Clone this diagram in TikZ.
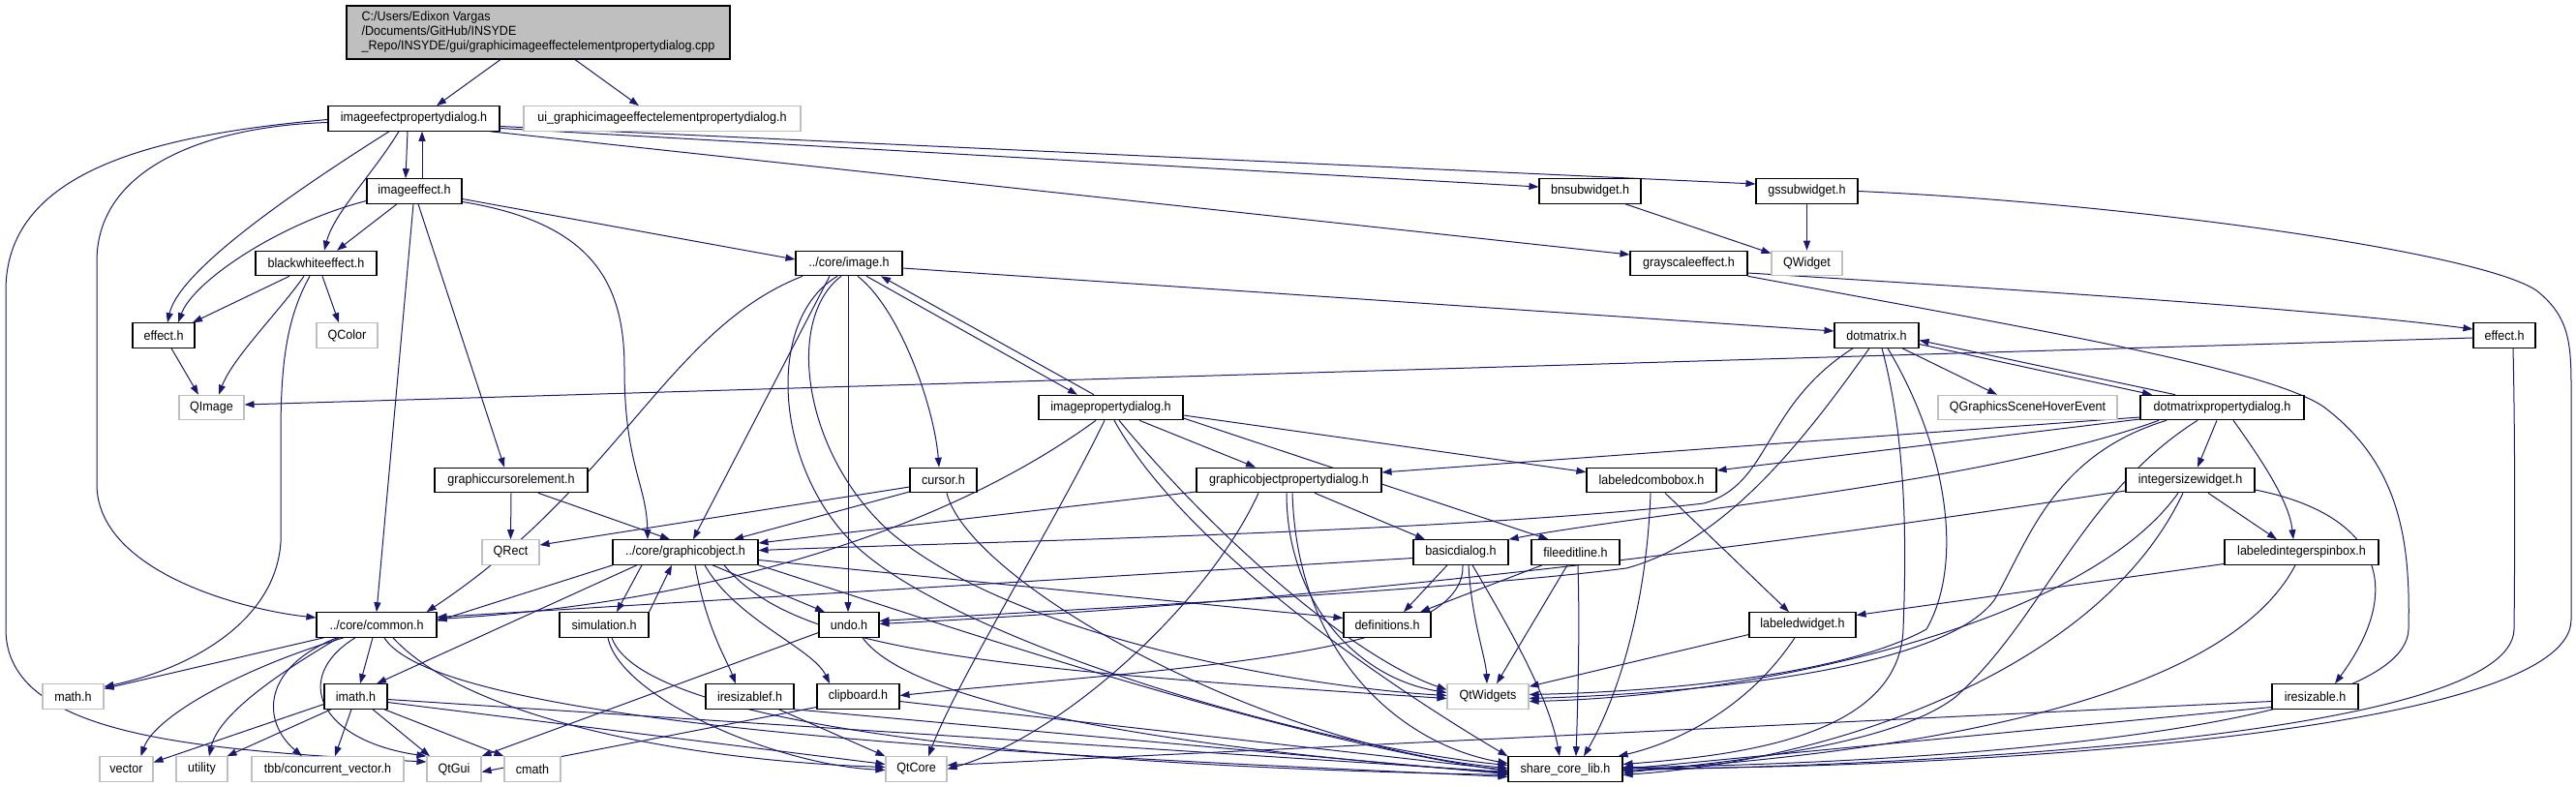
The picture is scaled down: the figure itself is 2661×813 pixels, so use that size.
\documentclass[tikz,border=0pt]{standalone}
\usepackage{fontspec}
\newfontfamily\dfont{Liberation Sans}[FakeStretch=0.93]
\usetikzlibrary{arrows.meta,backgrounds}
\definecolor{edgec}{HTML}{191970}
\definecolor{gry}{HTML}{BFBFBF}
\tikzset{
 box/.style={draw=black, line width=1.1pt, fill=white, inner sep=0pt, minimum height=25.5pt, font=\dfont\fontsize{13.5pt}{15pt}\selectfont},
 ext/.style={box, draw=gry},
 dep/.style={draw=edgec, line width=1pt, -{Triangle[length=10pt,width=7pt]}}
}
\begin{document}
\begin{tikzpicture}[x=1pt,y=-1pt]
\useasboundingbox (0,0) rectangle (2661,813);
% nodes
\node[box, fill=gry, minimum width=396pt, minimum height=55pt, align=left] (root) at (556,33.5) {C:/Users/Edixon Vargas\\/Documents/GitHub/INSYDE\\\_Repo/INSYDE/gui/graphicimageeffectelementpropertydialog.cpp};
\node[box, minimum width=177pt] (iepd) at (427.5,122.5) {imageefectpropertydialog.h};
\node[ext, minimum width=286pt] (ui) at (684,122.5) {ui\_graphicimageeffectelementpropertydialog.h};
\node[box, minimum width=98pt] (ie) at (428,197.5) {imageeffect.h};
\node[box, minimum width=105pt] (bnsw) at (1642.5,197.5) {bnsubwidget.h};
\node[box, minimum width=105pt] (gssw) at (1866.5,197.5) {gssubwidget.h};
\node[box, minimum width=125pt] (bwe) at (326.5,272) {blackwhiteeffect.h};
\node[box, minimum width=110pt] (img) at (877,272) {../core/image.h};
\node[box, minimum width=121pt] (gse) at (1744.5,272) {grayscaleeffect.h};
\node[ext, minimum width=73pt] (qwidget) at (1866.5,272) {QWidget};
\node[box, minimum width=64pt] (effL) at (169,346.5) {effect.h};
\node[ext, minimum width=63pt] (qcolor) at (358.5,346.5) {QColor};
\node[box, minimum width=87pt] (dotm) at (1938.5,346.5) {dotmatrix.h};
\node[box, minimum width=64pt] (effR) at (2587,346.5) {effect.h};
\node[ext, minimum width=67pt] (qimage) at (218.5,421) {QImage};
\node[box, minimum width=149pt] (ipd) at (1147.5,421) {imagepropertydialog.h};
\node[ext, minimum width=185pt] (qgshe) at (2094.5,421) {QGraphicsSceneHoverEvent};
\node[box, minimum width=169pt] (dmpd) at (2295.5,421) {dotmatrixpropertydialog.h};
\node[box, minimum width=158pt] (gce) at (528,496) {graphiccursorelement.h};
\node[box, minimum width=69pt] (cursor) at (974.5,496) {cursor.h};
\node[box, minimum width=191pt] (gopd) at (1331.5,496) {graphicobjectpropertydialog.h};
\node[box, minimum width=134pt] (lcb) at (1706,496) {labeledcombobox.h};
\node[box, minimum width=133pt] (isw) at (2262.5,496) {integersizewidget.h};
\node[ext, minimum width=59pt] (qrect) at (527.5,570.5) {QRect};
\node[box, minimum width=150pt] (gobj) at (708,570.5) {../core/graphicobject.h};
\node[box, minimum width=98pt] (basic) at (1509,570.5) {basicdialog.h};
\node[box, minimum width=91pt] (fel) at (1627.5,570.5) {fileeditline.h};
\node[box, minimum width=159pt] (lisb) at (2377.5,570.5) {labeledintegerspinbox.h};
\node[box, minimum width=124pt] (common) at (389,645.5) {../core/common.h};
\node[box, minimum width=92pt] (sim) at (624,645.5) {simulation.h};
\node[box, minimum width=62pt] (undo) at (877,645.5) {undo.h};
\node[box, minimum width=90pt] (defs) at (1433,645.5) {definitions.h};
\node[box, minimum width=110pt] (lw) at (1862,645.5) {labeledwidget.h};
\node[ext, minimum width=63pt] (mathh) at (75.5,719.5) {math.h};
\node[box, minimum width=65pt] (imath) at (367.5,719.5) {imath.h};
\node[box, minimum width=91pt] (iresf) at (774.5,719.5) {iresizablef.h};
\node[box, minimum width=85pt] (clip) at (886.5,719.5) {clipboard.h};
\node[ext, minimum width=84pt] (qtwidgets) at (1537,719.5) {QtWidgets};
\node[box, minimum width=89pt] (iresz) at (2391.5,719.5) {iresizable.h};
\node[ext, minimum width=55pt] (vector) at (130.5,794.5) {vector};
\node[ext, minimum width=53pt] (utility) at (208.5,794.5) {utility};
\node[ext, minimum width=157pt] (tbb) at (338.5,794.5) {tbb/concurrent\_vector.h};
\node[ext, minimum width=56pt] (qtgui) at (469,794.5) {QtGui};
\node[ext, minimum width=58pt] (cmath) at (550,794.5) {cmath};
\node[ext, minimum width=63pt] (qtcore) at (946.5,794.5) {QtCore};
\node[box, minimum width=118pt] (scl) at (1617,794.5) {share\_core\_lib.h};

\begin{pgfonlayer}{background}
% root
\draw[dep] ([xshift=-39pt]root.south) -- ([xshift=23.5pt]iepd.north);
\draw[dep] ([xshift=38pt]root.south) -- ([xshift=-24pt]ui.north);
% iepd
\draw[dep] ([xshift=-6.5pt]iepd.south) -- ([xshift=-9pt]ie.north);
\draw[dep] ([xshift=-25.5pt]iepd.south) .. controls (300,200) and (185,280) .. ([xshift=4pt]effL.north);
\draw[dep] ([xshift=-15.5pt]iepd.south) .. controls (385,180) and (345,220) .. ([xshift=8.5pt]bwe.north);
\draw[dep] ([yshift=-4pt]iepd.west) .. controls (220,130) and (100,170) .. (100,270) -- (100,500) .. controls (100,590) and (250,630) .. ([yshift=7.5pt]common.west);
\draw[dep] ([yshift=-1pt]iepd.west) .. controls (150,140) and (6,180) .. (6,300) -- (6,650) .. controls (6,760) and (200,775) .. ([yshift=7.5pt]qtgui.west);
\draw[dep] ([yshift=-10pt]iepd.east) -- ([yshift=4.5pt]bnsw.west);
\draw[dep] ([yshift=-8pt]iepd.east) -- ([yshift=7.5pt]gssw.west);
\draw[dep] ([xshift=-10pt]iepd.south east) -- ([yshift=9pt]gse.west);
% ie
\draw[dep] ([xshift=8pt]ie.north) -- ([xshift=8.5pt]iepd.south);
\draw[dep] ([yshift=-10pt]ie.west) .. controls (290,230) and (200,290) .. ([xshift=15pt]effL.north);
\draw[dep] ([xshift=-18pt]ie.south) -- ([xshift=21.5pt]bwe.north);
\draw[dep] ([xshift=-1pt]ie.south) -- (common.north);
\draw[dep] ([xshift=4pt]ie.south) -- ([xshift=-7pt]gce.north);
\draw[dep] ([yshift=-8pt]ie.east) -- ([yshift=4pt]img.west);
\draw[dep] ([yshift=-11pt]ie.east) .. controls (610,230) and (645,290) .. (645,380) .. controls (645,480) and (668,500) .. ([xshift=-39pt]gobj.north);
% bwe
\draw[dep] ([xshift=-27.5pt]bwe.south) -- ([xshift=30pt]effL.north);
\draw[dep] ([xshift=-12.5pt]bwe.south) .. controls (290,320) and (240,370) .. ([xshift=7.5pt]qimage.north);
\draw[dep] ([xshift=-6.5pt]bwe.south) .. controls (295,330) and (290,380) .. (290,450) -- (290,560) .. controls (285,640) and (200,690) .. ([yshift=10pt]mathh.east);
\draw[dep] ([xshift=6.5pt]bwe.south) -- ([xshift=-8.5pt]qcolor.north);
\draw[dep] ([xshift=8pt]effL.south) -- ([xshift=-13.5pt]qimage.north);
% widgets
\draw[dep] ([xshift=36.5pt]bnsw.south) -- ([yshift=-3pt]qwidget.north west);
\draw[dep] (gssw.south) -- (qwidget.north);
\draw[dep] (gssw.east) .. controls (2200,210) and (2560,260) .. (2620,300) .. controls (2658,330) and (2656,360) .. (2656,420) -- (2656,640) .. controls (2656,760) and (2000,795) .. ([yshift=1pt]scl.east);
\draw[dep] ([yshift=-10pt]gse.east) .. controls (2100,300) and (2400,320) .. ([yshift=6.5pt]effR.west);
\draw[dep] (gse.south east) .. controls (2100,340) and (2340,380) .. (2400,420) .. controls (2480,480) and (2490,560) .. (2488,650) .. controls (2485,760) and (1950,790) .. ([yshift=2pt]scl.east);
\draw[dep] ([yshift=-2.5pt]effR.west) -- ([yshift=3pt]qimage.east);
\draw[dep] ([xshift=9pt]effR.south) .. controls (2598,450) and (2598,560) .. (2597,650) .. controls (2595,760) and (2000,790) .. ([yshift=-1pt]scl.east);
% img
\draw[dep] ([xshift=-48pt]img.south) .. controls (690,340) and (640,500) .. ([xshift=-11pt]common.north east);
\draw[dep] ([xshift=-20pt]img.south) -- ([xshift=8pt]gobj.north);
\draw[dep] ([xshift=-12pt]img.south) .. controls (790,330) and (800,480) .. (880,560) .. controls (980,660) and (1350,770) .. ([yshift=4pt]scl.west);
\draw[dep] ([xshift=-8pt]img.south) .. controls (810,330) and (830,470) .. (920,550) .. controls (1050,660) and (1350,710) .. ([yshift=1pt]qtwidgets.west);
\draw[dep] ([xshift=-1pt]img.south) -- ([xshift=-1pt]undo.north);
\draw[dep] ([xshift=9pt]img.south) .. controls (930,320) and (965,420) .. ([xshift=-4.5pt]cursor.north);
\draw[dep] ([xshift=18pt]img.south) -- ([xshift=-34.5pt]ipd.north);
\draw[dep] ([yshift=-5pt]img.east) -- ([yshift=4.5pt]dotm.west);
% ipd
\draw[dep] ([xshift=-17.5pt]ipd.north) -- ([xshift=33pt]img.south);
\draw[dep] ([xshift=29.5pt]ipd.south) -- ([xshift=-34.5pt]gopd.north);
\draw[dep] ([yshift=-8pt]ipd.east) -- ([yshift=-5pt]lcb.north west);
\draw[dep] ([yshift=-11pt]ipd.east) -- ([xshift=-28pt]fel.north);
\draw[dep] ([xshift=-15.5pt]ipd.south) .. controls (960,560) and (700,625) .. ([yshift=6pt]common.east);
\draw[dep] ([xshift=-6.5pt]ipd.south) .. controls (1090,540) and (990,700) .. ([xshift=12.5pt]qtcore.north);
\draw[dep] ([xshift=3.5pt]ipd.south) .. controls (1220,560) and (1420,700) .. (scl.north west);
\draw[dep] ([xshift=8.5pt]ipd.south) .. controls (1260,560) and (1400,680) .. ([yshift=7pt]qtwidgets.west);
% dotm
\draw[dep] ([xshift=26.5pt]dotm.south) -- ([xshift=-31.5pt]qgshe.north);
\draw[dep] ([yshift=-9pt]dotm.east) -- ([xshift=-72.5pt]dmpd.north);
\draw[dep] ([xshift=-48.5pt]dmpd.north) -- ([yshift=-5pt]dotm.east);
\draw[dep] ([xshift=-24.5pt]dotm.south) .. controls (1820,420) and (1830,500) .. (1760,520) .. controls (1500,550) and (1000,560) .. ([yshift=2pt]gobj.east);
\draw[dep] ([xshift=-7.5pt]dotm.south) .. controls (1860,460) and (1780,560) .. (1680,587) .. controls (1500,610) and (1100,630) .. ([yshift=4pt]undo.east);
\draw[dep] ([xshift=5.5pt]dotm.south) .. controls (1968,450) and (1970,550) .. (1966,650) .. controls (1962,760) and (1800,780) .. ([yshift=5pt]scl.east);
\draw[dep] ([xshift=11.5pt]dotm.south) .. controls (2010,460) and (2030,580) .. (1990,650) .. controls (1900,700) and (1700,715) .. ([yshift=2pt]qtwidgets.east);
% dmpd
\draw[dep] ([yshift=-10pt]dmpd.west) -- ([yshift=8pt]gopd.east);
\draw[dep] ([yshift=-12pt]dmpd.west) -- ([yshift=10pt]lcb.east);
\draw[dep] ([xshift=-65.5pt]dmpd.south) .. controls (2050,500) and (1700,530) .. (basic.north east);
\draw[dep] ([xshift=-5.5pt]dmpd.south) -- ([xshift=7.5pt]isw.north);
\draw[dep] ([xshift=11.5pt]dmpd.south) .. controls (2340,480) and (2365,520) .. ([xshift=-8.5pt]lisb.north);
\draw[dep] ([xshift=-57.5pt]dmpd.south) .. controls (2120,470) and (2095,560) .. (2060,620) .. controls (2000,700) and (1700,718) .. ([yshift=-2pt]qtwidgets.east);
\draw[dep] ([xshift=-25.5pt]dmpd.south) .. controls (2150,510) and (2110,640) .. (2020,720) .. controls (1950,775) and (1750,790) .. ([yshift=-4pt]scl.east);
% gce, cursor
\draw[dep] (gce.south) -- (qrect.north);
\draw[dep] ([xshift=28pt]gce.south) -- ([xshift=-16pt]gobj.north);
\draw[dep] ([yshift=-7pt]cursor.west) -- ([yshift=7.5pt]qrect.east);
\draw[dep] ([yshift=-12pt]cursor.west) -- ([xshift=50pt]gobj.north);
\draw[dep] ([xshift=3.5pt]cursor.south) .. controls (1000,600) and (1300,770) .. ([yshift=1pt]scl.west);
% gopd
\draw[dep] ([yshift=-12pt]gopd.west) -- ([yshift=9.5pt]gobj.east);
\draw[dep] ([xshift=26.5pt]gopd.south) -- ([xshift=-37pt]basic.north);
\draw[dep] ([xshift=-2.5pt]gopd.south) .. controls (1329,620) and (1400,700) .. ([yshift=4pt]qtwidgets.west);
\draw[dep] ([xshift=3.5pt]gopd.south) .. controls (1340,680) and (1450,770) .. ([yshift=6pt]scl.west);
\draw[dep] ([xshift=-31.5pt]gopd.south) .. controls (1250,620) and (1100,760) .. (qtcore.east);
% lcb
\draw[dep] ([xshift=14pt]lcb.south) -- ([xshift=-14pt]lw.north);
\draw[dep] ([xshift=-1pt]lcb.south) .. controls (1700,650) and (1660,740) .. ([xshift=19pt]scl.north);
% isw
\draw[dep] ([xshift=18.5pt]isw.south) -- ([xshift=-25.5pt]lisb.north);
\draw[dep] ([yshift=-10pt]isw.east) .. controls (2450,530) and (2490,600) .. ([xshift=20.5pt]iresz.north);
\draw[dep] ([xshift=-12.5pt]isw.south) .. controls (2150,650) and (1800,720) .. ([yshift=-5pt]qtwidgets.east);
\draw[dep] ([xshift=-7.5pt]isw.south) .. controls (2170,690) and (1900,785) .. ([yshift=-6pt]scl.east);
\draw[dep] ([yshift=-11pt]isw.west) .. controls (1850,560) and (1400,620) .. ([yshift=1pt]undo.east);
% gobj
\draw[dep] ([xshift=-75pt]gobj.south) -- ([yshift=4pt]common.east);
\draw[dep] ([xshift=-50pt]gobj.south) -- ([xshift=21.5pt]imath.north);
\draw[dep] ([xshift=-45pt]gobj.south) -- ([xshift=13pt]sim.north);
\draw[dep] (sim.north east) -- ([xshift=-14pt]gobj.south);
\draw[dep] ([xshift=28pt]gobj.south) -- ([xshift=-25pt]undo.north);
\draw[dep] ([yshift=-8pt]gobj.east) -- ([yshift=7pt]defs.west);
\draw[dep] ([xshift=10pt]gobj.south) .. controls (730,650) and (750,680) .. ([xshift=-14.5pt]iresf.north);
\draw[dep] ([xshift=20pt]gobj.south) .. controls (760,640) and (840,670) .. ([xshift=-29.5pt]clip.north);
\draw[dep] ([xshift=40pt]gobj.south) .. controls (820,670) and (1000,690) .. ([yshift=-2pt]qtwidgets.west);
\draw[dep] (gobj.south east) .. controls (900,620) and (1300,760) .. ([yshift=-2pt]scl.west);
% sim
\draw[dep] ([xshift=4pt]sim.south) .. controls (640,720) and (800,790) .. ([yshift=-1pt]qtcore.west);
\draw[dep] ([xshift=8pt]sim.south) .. controls (660,740) and (1000,790) .. ([yshift=-6pt]scl.west);
% basic, fel
\draw[dep] ([xshift=-14pt]basic.south) -- ([xshift=17pt]defs.north);
\draw[dep] ([yshift=-6pt]basic.west) -- ([yshift=8pt]common.east);
\draw[dep] ([xshift=2pt]basic.south) .. controls (1515,680) and (1200,690) .. ([yshift=1pt]clip.east);
\draw[dep] ([xshift=8pt]basic.south) .. controls (1520,640) and (1535,680) .. ([xshift=-1pt]qtwidgets.north);
\draw[dep] ([xshift=12pt]basic.south) .. controls (1560,650) and (1600,720) .. ([xshift=-6pt]scl.north);
\draw[dep] ([xshift=-34.5pt]fel.south) -- ([xshift=34pt]defs.north);
\draw[dep] ([xshift=-8.5pt]fel.south) -- ([xshift=9pt]qtwidgets.north);
\draw[dep] ([xshift=2.5pt]fel.south) .. controls (1632,650) and (1630,720) .. ([xshift=11pt]scl.north);
% lisb, lw, iresz
\draw[dep] ([yshift=-12pt]lisb.west) -- ([yshift=10pt]lw.east);
\draw[dep] ([xshift=-6.5pt]lisb.south) .. controls (2300,720) and (2000,775) .. ([yshift=-2pt]scl.east);
\draw[dep] ([yshift=-10pt]lw.west) -- ([yshift=-3pt]qtwidgets.north east);
\draw[dep] ([xshift=-8pt]lw.south) .. controls (1800,740) and (1720,770) .. ([xshift=-5pt]scl.north east);
\draw[dep] ([yshift=-5pt]iresz.west) -- ([yshift=4pt]qtcore.east);
\draw[dep] ([yshift=-11pt]iresz.west) -- (scl.east);
% common
\draw[dep] ([xshift=8pt]common.south west) -- ([yshift=8pt]mathh.east);
\draw[dep] ([xshift=-4pt]common.south) -- ([xshift=4.5pt]imath.north);
\draw[dep] ([xshift=-34pt]common.south) .. controls (250,690) and (160,740) .. ([xshift=15pt]vector.north);
\draw[dep] ([xshift=-39pt]common.south) .. controls (280,700) and (225,740) .. ([xshift=7.5pt]utility.north);
\draw[dep] ([xshift=-41pt]common.south) .. controls (270,690) and (270,745) .. ([xshift=-26.5pt]tbb.north);
\draw[dep] ([xshift=-22pt]common.south) .. controls (300,700) and (330,765) .. (qtgui.north west);
\draw[dep] ([xshift=17pt]common.south) .. controls (480,740) and (700,785) .. ([yshift=2pt]qtcore.west);
\draw[dep] ([xshift=8pt]common.south) .. controls (460,760) and (1200,785) .. ([yshift=-8pt]scl.west);
% imath
\draw[dep] ([yshift=-8pt]imath.west) -- ([yshift=7pt]vector.east);
\draw[dep] ([xshift=-25.5pt]imath.south) -- ([xshift=26pt]utility.north);
\draw[dep] ([xshift=-4.5pt]imath.south) -- ([xshift=7.5pt]tbb.north);
\draw[dep] ([xshift=17.5pt]imath.south) -- ([xshift=-25pt]qtgui.north);
\draw[dep] ([xshift=29.5pt]imath.south) -- (cmath.north west);
\draw[dep] ([yshift=-6pt]imath.east) -- ([yshift=5pt]qtcore.west);
\draw[dep] ([yshift=-3pt]imath.east) -- ([yshift=-3pt]scl.west);
% undo, iresf, clip
\draw[dep] ([yshift=-8pt]undo.west) -- (qtgui.north east);
\draw[dep] ([xshift=14pt]undo.south) .. controls (950,740) and (1300,780) .. ([yshift=-4pt]scl.west);
\draw[dep] ([xshift=30pt]iresf.south) -- (qtcore.north west);
\draw[dep] (iresf.south east) -- ([yshift=-5pt]scl.west);
\draw[dep] ([yshift=-11pt]clip.west) -- ([yshift=-3pt]qtgui.east);
\draw[dep] ([yshift=-5pt]clip.east) -- ([yshift=-1pt]scl.west);
\end{pgfonlayer}
\end{tikzpicture}
\end{document}
